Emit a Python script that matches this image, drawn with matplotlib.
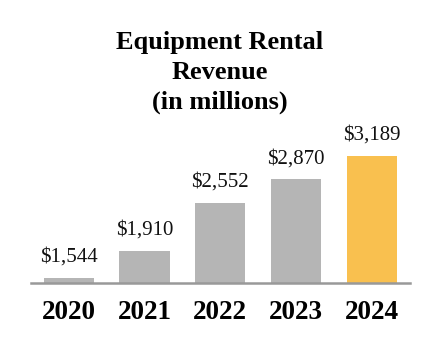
import matplotlib
matplotlib.use("Agg")
import matplotlib.pyplot as plt

years = ["2020", "2021", "2022", "2023", "2024"]
revenue = [1544, 1910, 2552, 2870, 3189]
labels = ["$1,544", "$1,910", "$2,552", "$2,870", "$3,189"]
colors = ["#b5b5b5", "#b5b5b5", "#b5b5b5", "#b5b5b5", "#f9c04f"]

plt.rcParams['font.family'] = ['Liberation Serif', 'DejaVu Serif']

fig = plt.figure(figsize=(4.4, 3.6), dpi=100)
ax = fig.add_axes([30.7/440, (360-283.3)/360, 379.3/440, (283.3-140)/360])
x = list(range(len(years)))
ax.bar(x, revenue, width=0.66, color=colors, bottom=0)
ax.set_xlim(-0.5, 4.5)
ax.set_ylim(1468, 3400)
for xi, v, lab in zip(x, revenue, labels):
    ax.annotate(lab, (xi, v), xytext=(0, 8), textcoords='offset points',
                ha='center', va='bottom', fontsize=15, color='#111111')
for s in ['top', 'right', 'left']:
    ax.spines[s].set_visible(False)
ax.spines['bottom'].set_color('#999999')
ax.spines['bottom'].set_linewidth(1.8)
ax.set_yticks([])
ax.set_xticks(x)
ax.set_xticklabels(years, fontsize=19.5, fontweight='bold')
ax.tick_params(axis='x', length=0, pad=12)

fig.text(0.5, 1 - 31/360, "Equipment Rental\nRevenue\n(in millions)", ha='center', va='top',
         fontsize=19, fontweight='bold', linespacing=1.38)

fig.savefig("out.png", dpi=100)
